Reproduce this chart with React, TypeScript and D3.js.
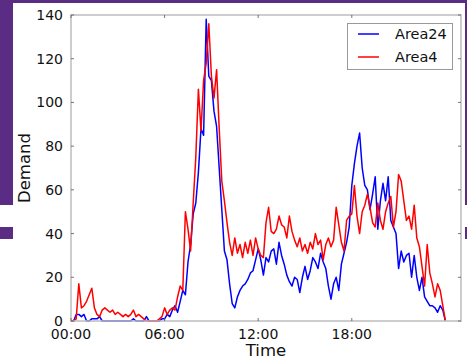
import React from "react";
import * as d3 from "d3";

// demand sampled every 10 minutes, 00:00 .. 24:00
const minutes = d3.range(0, 1441, 10);

const area24 = [
  0, 0, 3, 3, 2, 3, 0, 0, 1, 1, 1, 2,
  0, 0, 0, 0, 0, 0, 0, 0, 0, 0, 0, 0,
  1, 0, 0, 0, 0, 2, 0, 0, 0, 0, 0, 1,
  1, 3, 2, 5, 7, 4, 9, 14, 12, 27, 35, 49,
  54, 68, 88, 85, 138, 112, 110, 96, 89, 70, 51, 32,
  28, 17, 8, 6, 11, 14, 16, 17, 19, 22, 23, 28,
  33, 28, 21, 29, 27, 32, 33, 26, 36, 30, 26, 21,
  18, 16, 20, 19, 13, 20, 25, 19, 23, 29, 27, 24,
  31, 27, 24, 16, 10, 17, 20, 14, 26, 31, 36, 43,
  62, 72, 80, 86, 70, 62, 60, 51, 58, 66, 42, 55,
  63, 55, 66, 46, 43, 40, 24, 32, 27, 30, 31, 20,
  30, 20, 14, 20, 11, 9, 7, 7, 6, 4, 7, 5, 0,
];

const area4 = [
  0, 0, 1, 17, 6, 7, 9, 12, 15, 6, 3, 2,
  5, 6, 5, 4, 5, 3, 4, 3, 2, 3, 2, 3,
  5, 2, 3, 2, 1, 0, 0, 0, 0, 0, 1, 2,
  6, 3, 5, 6, 5, 11, 16, 14, 50, 42, 32, 54,
  75, 106, 87, 110, 118, 136, 112, 102, 115, 88, 64, 55,
  45, 36, 30, 38, 31, 35, 29, 36, 31, 37, 30, 38,
  33, 30, 29, 45, 52, 41, 40, 42, 48, 44, 43, 38,
  48, 41, 37, 34, 38, 32, 35, 31, 36, 33, 40, 35,
  37, 28, 35, 38, 34, 37, 52, 44, 36, 32, 46, 48,
  49, 62, 48, 40, 50, 53, 58, 52, 45, 43, 54, 46,
  42, 50, 54, 57, 43, 50, 67, 64, 55, 46, 48, 42,
  53, 38, 34, 25, 16, 35, 22, 17, 11, 17, 14, 7, 0,
];

const xTicks = [0, 360, 720, 1080];
const xTickLabels = ["00:00", "06:00", "12:00", "18:00"];
const yTicks = [0, 20, 40, 60, 80, 100, 120, 140];

const seriesNames = ["Area24", "Area4"];
const seriesColors = ["#0000ff", "#ff0000"];

const purple = "#5b2c83";
const font = "DejaVu Sans, sans-serif";

export default function App() {
  const width = 467,
    height = 362;

  const left = 71,
    right = 461,
    top = 15,
    bottom = 321;

  const x = d3.scaleLinear().domain([0, 1500]).range([left, right]);
  const y = d3.scaleLinear().domain([0, 140]).range([bottom, top]);

  const line = d3
    .line<number>()
    .x((d, i) => x(minutes[i]))
    .y((d) => y(d));

  const series = [area24, area4];

  return (
    <svg
      width={width}
      height={height}
      style={{ position: "absolute", left: 0, top: 0, background: "#fff" }}
      fontFamily={font}
    >
      {/* purple slide frame behind the figure */}
      <rect x={0} y={0} width={width} height={3} fill={purple} />
      <rect x={0} y={0} width={13} height={205} fill={purple} />
      <rect x={0} y={227} width={13} height={12} fill={purple} />
      <rect x={465} y={0} width={2} height={205} fill={purple} />
      <rect x={465} y={227} width={2} height={12} fill={purple} />

      {/* data lines */}
      <g fill="none" strokeWidth={1.5} strokeLinejoin="round">
        {series.map((s, k) => (
          <path key={seriesNames[k]} d={line(s) || ""} stroke={seriesColors[k]} />
        ))}
      </g>

      {/* frame */}
      <rect
        x={left}
        y={top}
        width={right - left}
        height={bottom - top}
        fill="none"
        stroke="#bdbdbd"
        strokeWidth={1.5}
      />

      {/* ticks */}
      <g stroke="#555" strokeWidth={0.8}>
        {xTicks.map((t) => (
          <g key={"xt" + t}>
            <line x1={x(t)} x2={x(t)} y1={bottom} y2={bottom - 3} />
            <line x1={x(t)} x2={x(t)} y1={top} y2={top + 3} />
          </g>
        ))}
        {yTicks.map((t) => (
          <g key={"yt" + t}>
            <line x1={left} x2={left + 3} y1={y(t)} y2={y(t)} />
            <line x1={right} x2={right - 3} y1={y(t)} y2={y(t)} />
          </g>
        ))}
      </g>

      {/* tick labels */}
      <g fontSize={14} fill="#111">
        {xTicks.map((t, i) => (
          <text key={"xl" + t} x={x(t)} y={339} textAnchor="middle">
            {xTickLabels[i]}
          </text>
        ))}
        {yTicks.map((t) => (
          <text key={"yl" + t} x={63} y={y(t) + 5} textAnchor="end">
            {t}
          </text>
        ))}
      </g>

      {/* axis titles */}
      <text x={(left + right) / 2} y={356} textAnchor="middle" fontSize={16.5} fill="#111">
        Time
      </text>
      <text
        transform={`translate(30, ${(top + bottom) / 2}) rotate(-90)`}
        textAnchor="middle"
        fontSize={16.5}
        fill="#111"
      >
        Demand
      </text>

      {/* legend */}
      <rect x={347.5} y={23.5} width={105} height={46} fill="#fff" stroke="#999" strokeWidth={1} />
      {seriesNames.map((name, k) => (
        <g key={"lg" + name}>
          <line x1={358} x2={379} y1={34 + k * 23} y2={34 + k * 23} stroke={seriesColors[k]} strokeWidth={1.5} />
          <text x={395} y={39 + k * 23} fontSize={14.5} fill="#111">
            {name}
          </text>
        </g>
      ))}
    </svg>
  );
}
